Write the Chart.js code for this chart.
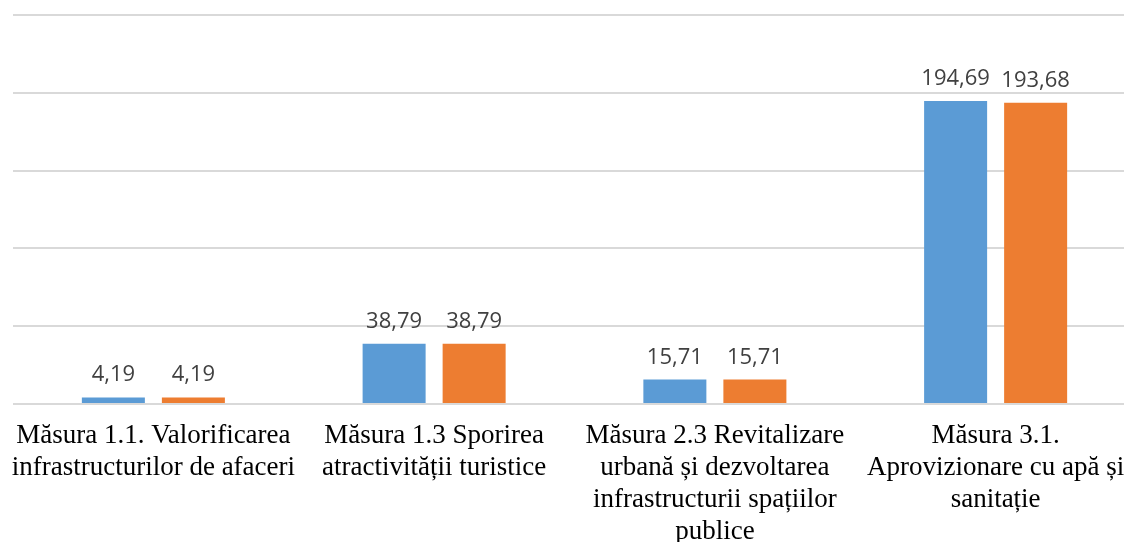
<!DOCTYPE html>
<html>
<head>
<meta charset="utf-8">
<script src="https://cdn.jsdelivr.net/npm/chart.js@4/dist/chart.umd.min.js"></script>
<style>
  html, body { margin: 0; padding: 0; background: #fff; overflow: hidden; }
  #wrap { position: relative; width: 1150px; height: 542px; }
</style>
</head>
<body>
<div id="wrap"><canvas id="chart"></canvas></div>
<script>
// categorii (etichete pe axa X, pe mai multe rânduri)
const categories = [
    ['Măsura 1.1. Valorificarea', 'infrastructurilor de afaceri'],
    ['Măsura 1.3 Sporirea', 'atractivității turistice'],
    ['Măsura 2.3 Revitalizare', 'urbană și dezvoltarea', 'infrastructurii spațiilor', 'publice'],
    ['Măsura 3.1.', 'Aprovizionare cu apă și', 'sanitație']
];
const seriesBlue = [4.19, 38.79, 15.71, 194.69];
const seriesOrange = [4.19, 38.79, 15.71, 193.68];
const yMin = 0, yMax = 250, yStep = 50;

const fmt = v => v.toFixed(2).replace('.', ',');

// etichete de valoare deasupra barelor
const valueLabels = {
    id: 'valueLabels',
    afterDatasetsDraw(chart) {
        const ctx = chart.ctx;
        ctx.save();
        ctx.font = '22px "Open Sans"';
        ctx.fillStyle = '#404040';
        ctx.textAlign = 'center';
        ctx.textBaseline = 'alphabetic';
        chart.data.datasets.forEach((ds, i) => {
            chart.getDatasetMeta(i).data.forEach((bar, j) => {
                ctx.fillText(fmt(ds.data[j]), bar.x, bar.y - 16);
            });
        });
        ctx.restore();
    }
};

new Chart(document.getElementById('chart'), {
    type: 'bar',
    data: {
        labels: categories,
        datasets: [
            { label: 'A', data: seriesBlue, backgroundColor: '#5B9BD5' },
            { label: 'B', data: seriesOrange, backgroundColor: '#ED7D31' }
        ]
    },
    options: {
        responsive: true,
        maintainAspectRatio: false,
        animation: false,
        categoryPercentage: 0.57,
        barPercentage: 0.7875,
        layout: { padding: { left: 13, right: 14, top: 15, bottom: 0 } },
        plugins: { legend: { display: false }, tooltip: { enabled: false } },
        scales: {
            x: {
                // etichetele lungi nu trebuie să împingă zona graficului
                afterFit: s => { s.height = 138; s.paddingLeft = 0; s.paddingRight = 0; },
                grid: { display: false, drawTicks: false },
                border: { display: false },
                ticks: {
                    color: '#000',
                    padding: 16,
                    maxRotation: 0,
                    autoSkip: false,
                    font: { family: '"Liberation Serif"', size: 27, lineHeight: 1.18 }
                }
            },
            y: {
                min: yMin,
                max: yMax,
                ticks: { display: false, stepSize: yStep },
                grid: { color: '#d9d9d9', lineWidth: 2, drawTicks: false },
                border: { display: false }
            }
        }
    },
    plugins: [valueLabels]
});
</script>
</body>
</html>
